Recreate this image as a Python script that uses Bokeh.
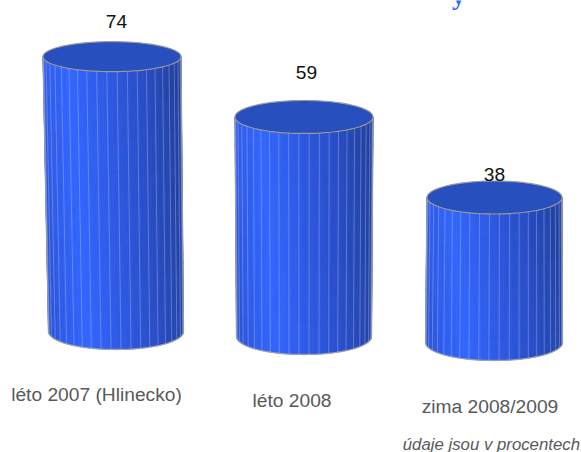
import numpy as np
from bokeh.plotting import figure
from bokeh.embed import file_html
from bokeh.resources import INLINE
from bokeh.core.properties import value as V

categories = ["léto 2007 (Hlinecko)", "léto 2008", "zima 2008/2009"]
values = [74, 59, 38]
footnote = "údaje jsou v procentech"
title_fragment = "y"

W, H = 581, 452
SCALE = 3.75
ZERO_PX = 336.0

def ypx(px):
    return (ZERO_PX - np.asarray(px, dtype=float)) / SCALE

# layout of the tilted drawing
top_cx = [111.5, 303.5, 494.0]
top_rx = [69.0, 69.0, 67.5]
top_ry = [15.0, 16.5, 16.5]
top_tilt = [0.63, -0.46, -0.93]
bot_cx = [115.5, 303.5, 493.5]
bot_rx = [67.5, 67.5, 68.5]
bot_ry = [18.0, 18.0, 18.0]
bot_px = [331.0, 336.0, 342.0]
cat_x = [96, 291.5, 489.5]
cat_px = [394, 400, 405.5]
val_x = [116, 306, 494]
val_off_px = [35, 44, 23]
TEXT_SIZE = "19.2px"

p = figure(width=W, height=H, x_range=(0, W), y_range=(float(ypx(H)), float(ypx(0))),
           output_backend="svg", toolbar_location=None, min_border=0,
           outline_line_color=None, background_fill_color="white")
p.styles = {"position": "absolute", "left": "0px", "top": "0px"}
p.axis.visible = False
p.grid.visible = False

stops_u = [0.0, 0.07, 0.24, 0.5, 0.75, 0.92, 1.0]
stops_r = [0x2b, 0x2e, 0x33, 0x2e, 0x29, 0x24, 0x21]
stops_g = [0x55, 0x5c, 0x66, 0x5a, 0x4e, 0x46, 0x3f]
stops_b = [0xd8, 0xec, 0xff, 0xe4, 0xc8, 0xae, 0xa0]

def col(u):
    u = float(np.clip(u, 0, 1))
    return "#%02x%02x%02x" % (int(np.interp(u, stops_u, stops_r)),
                              int(np.interp(u, stops_u, stops_g)),
                              int(np.interp(u, stops_u, stops_b)))

for i, val in enumerate(values):
    ty = val + top_tilt[i]
    by = float(ypx(bot_px[i]))
    try_ = top_ry[i] / SCALE
    bry = bot_ry[i] / SCALE

    def side(theta, v):
        xt = top_cx[i] - top_rx[i] * np.cos(theta)
        yt = ty - try_ * np.sin(theta)
        xb = bot_cx[i] - bot_rx[i] * np.cos(theta)
        yb = by - bry * np.sin(theta)
        return xt + (xb - xt) * v, yt + (yb - yt) * v

    xs, ys, cs = [], [], []
    thetas = np.linspace(0, np.pi, 49)
    vs = np.linspace(0, 1, 9)
    for a, b in zip(thetas[:-1], thetas[1:]):
        for v0, v1 in zip(vs[:-1], vs[1:]):
            xa0, ya0 = side(a, v0)
            xb0, yb0 = side(b, v0)
            xb1, yb1 = side(b, v1)
            xa1, ya1 = side(a, v1)
            xs.append([xa0, xb0, xb1, xa1])
            ys.append([ya0, yb0, yb1, ya1])
            um = (1 - np.cos((a + b) / 2)) / 2
            cs.append(col(um - 0.05 * (((v0 + v1) / 2) - 0.5) * 2))
    p.patches(xs, ys, fill_color=cs, line_color=cs, line_width=0.8)

    lx, ly = [], []
    for th in np.linspace(0, np.pi, 22)[1:-1]:
        x0, y0 = side(th, 0)
        x1, y1 = side(th, 1)
        lx.append([x0, x1])
        ly.append([y0, y1])
    p.multi_line(lx, ly, line_color="#a9bdf7", line_alpha=0.42, line_width=1)

    th = np.linspace(0, np.pi, 80)
    bx = bot_cx[i] - bot_rx[i] * np.cos(th)
    byy = by - bry * np.sin(th)
    ox = [top_cx[i] - top_rx[i]] + list(bx) + [top_cx[i] + top_rx[i]]
    oy = [ty] + list(byy) + [ty]
    p.line(ox, oy, line_color="#a8a8a8", line_width=1.3, line_alpha=0.85)

    t = np.linspace(0, 2 * np.pi, 160)
    p.patch(top_cx[i] + top_rx[i] * np.cos(t), ty + try_ * np.sin(t),
            fill_color="#274fbd", line_color="#9a9a9a", line_width=1.2)

    p.text([val_x[i]], [val + top_tilt[i] + val_off_px[i] / SCALE], text=[str(val)],
           text_font=V("Liberation Sans"), text_font_size=TEXT_SIZE, text_color="#111111",
           text_align="center", text_baseline="alphabetic")

    p.text([cat_x[i]], [float(ypx(cat_px[i]))], text=[categories[i]],
           text_font=V("Liberation Sans"), text_font_size=TEXT_SIZE, text_color="#595959",
           text_align="center", text_baseline="alphabetic")

p.text([579.5], [float(ypx(444))], text=[footnote], text_font=V("Liberation Sans"),
       text_font_size="16.8px", text_font_style="italic", text_color="#595959",
       text_align="right", text_baseline="alphabetic")

p.text([458], [float(ypx(-4))], text=[title_fragment], text_font=V("Liberation Serif"),
       text_font_size="26px", text_font_style="bold", text_color="#3366ff",
       text_align="center", text_baseline="alphabetic")

open("out.html", "w").write(file_html(p, INLINE))
